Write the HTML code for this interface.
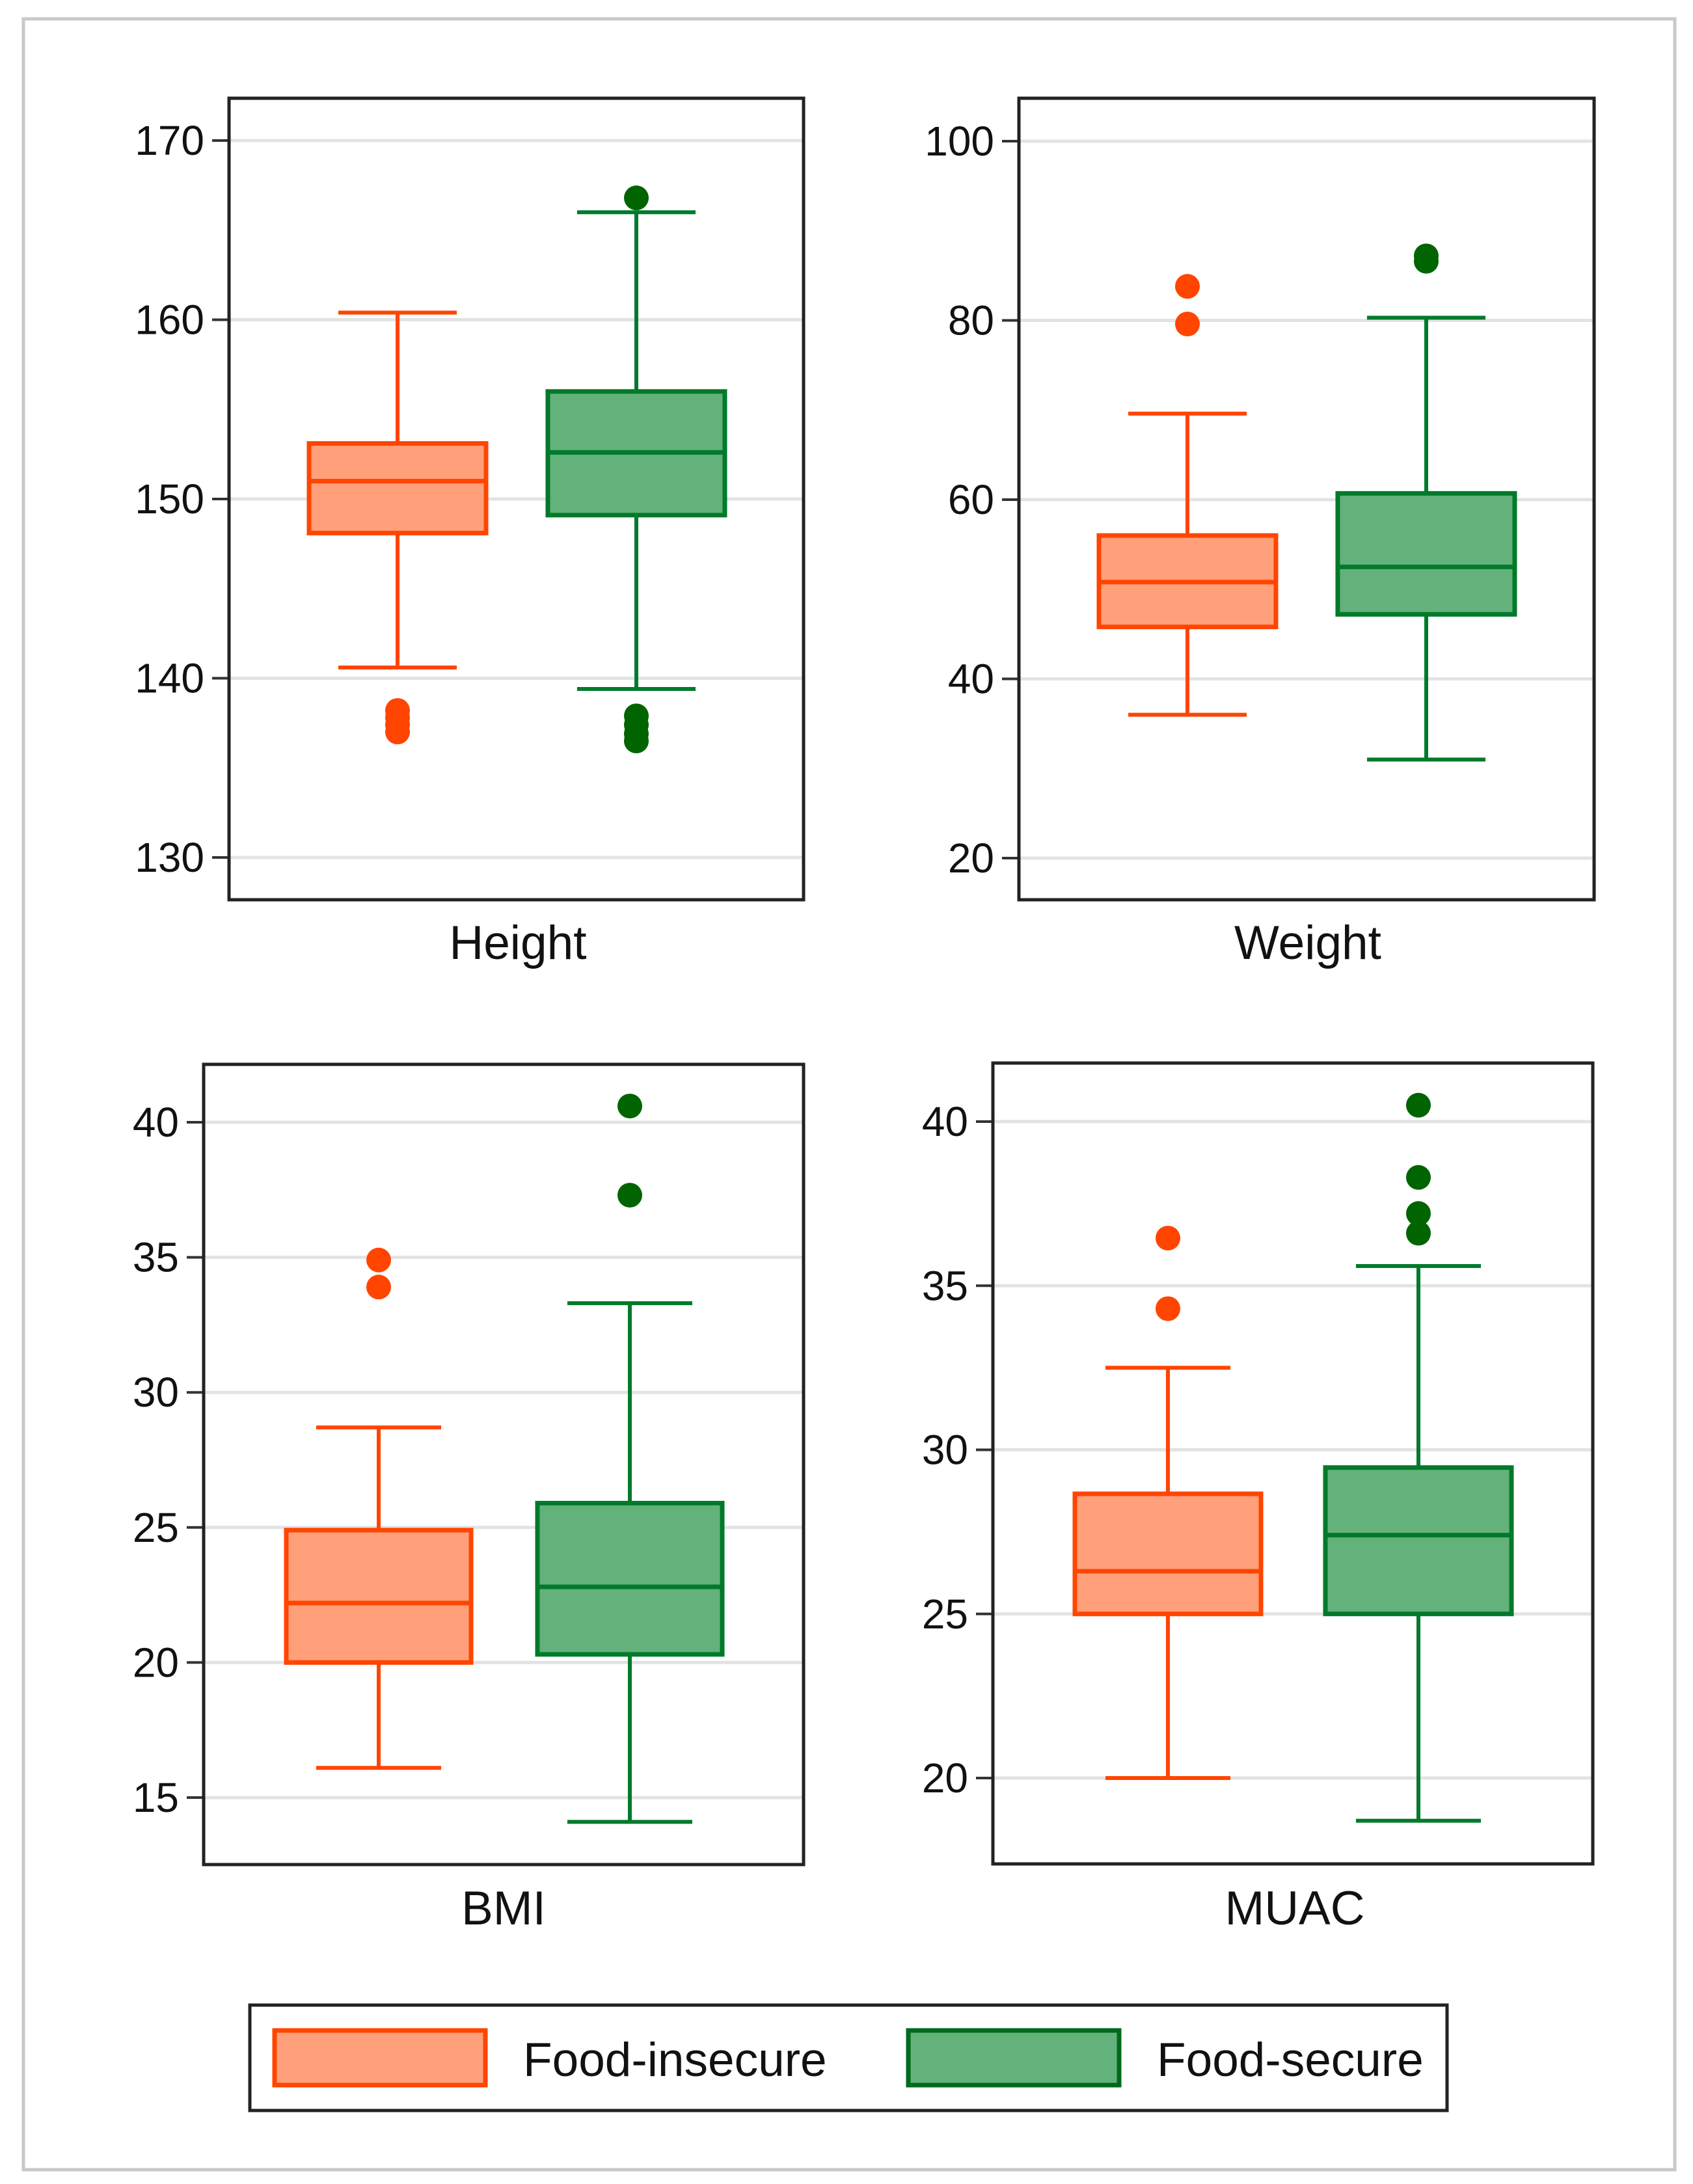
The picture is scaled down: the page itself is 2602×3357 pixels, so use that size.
<!DOCTYPE html>
<html><head><meta charset="utf-8"><style>
html,body{margin:0;padding:0;background:#fff;}
svg{display:block;font-family:"Liberation Sans",Arial,sans-serif;}
</style></head><body>
<svg id="chart" width="2602" height="3357" viewBox="0 0 2602 3357">
<rect x="36" y="29" width="2538" height="3306" fill="#fff" stroke="#c8c8c8" stroke-width="5"/>
<g id="panels"></g>
<g>
<rect x="384" y="3082" width="1840" height="162" fill="#fff" stroke="#222" stroke-width="5"/>
<rect x="422" y="3121" width="324" height="84" fill="#ffa07a" stroke="#ff4500" stroke-width="7"/>
<text x="804" y="3191" font-size="73" fill="#111">Food-insecure</text>
<rect x="1396" y="3121" width="324" height="84" fill="#63b17b" stroke="#006a1c" stroke-width="7"/>
<text x="1778" y="3191" font-size="73" fill="#111">Food-secure</text>
</g>
</svg>
<script>
// Data: [low whisker, Q1, median, Q3, high whisker]
const panelNames = ["Height", "Weight", "BMI", "MUAC"];
const insecureStats = [[140.6,148.1,151.0,153.1,160.4],[36,45.8,50.8,56.0,69.6],[16.1,20.0,22.2,24.9,28.7],[20.0,25.0,26.3,28.66,32.5]];
const secureStats = [[139.4,149.1,152.6,156.0,166.0],[31,47.2,52.5,60.7,80.3],[14.1,20.3,22.8,25.9,33.3],[18.7,25.0,27.4,29.46,35.6]];
const insecureOutliers = [[137.0,137.4,137.8,138.2],[79.6,83.8],[33.9,34.9],[34.3,36.45]];
const secureOutliers = [[136.5,136.9,137.4,137.9,166.8],[86.6,87.2],[37.3,40.6],[36.6,37.2,38.3,40.5]];
const tickValues = [[130,140,150,160,170],[20,40,60,80,100],[15,20,25,30,35,40],[20,25,30,35,40]];

// Layout (pixels) per panel
const layout = [
 {x0:352,x1:1235,y0:151,y1:1383,tA:130,pA:1318,tB:170,pB:216,ci:611,cs:978,hw:136,cw:91,lx:796,ly:1474},
 {x0:1566,x1:2450,y0:151,y1:1383,tA:20,pA:1319,tB:100,pB:217,ci:1825,cs:2192,hw:136,cw:91,lx:2010,ly:1474},
 {x0:313,x1:1235,y0:1636,y1:2866,tA:15,pA:2763,tB:40,pB:1725,ci:582,cs:968,hw:142,cw:96,lx:774,ly:2958},
 {x0:1526,x1:2448,y0:1634,y1:2865,tA:20,pA:2733,tB:40,pB:1724,ci:1795,cs:2180,hw:143,cw:96,lx:1990,ly:2958}
];
const NS="http://www.w3.org/2000/svg";
const root=document.getElementById('panels');
function mk(tag,attrs,parent){const e=document.createElementNS(NS,tag);for(const k in attrs)e.setAttribute(k,attrs[k]);parent.appendChild(e);return e;}
layout.forEach((L,i)=>{
  const yS=v=>L.pA+(v-L.tA)*(L.pB-L.pA)/(L.tB-L.tA);
  const g=mk('g',{},root);
  
  
  const bg=mk('rect',{x:L.x0,y:L.y0,width:L.x1-L.x0,height:L.y1-L.y0,fill:'#fff'},g);
  
  
  tickValues[i].forEach(t=>{
    const y=yS(t);
    const gl=mk('line',{x1:L.x0,x2:L.x1,y1:y,y2:y,stroke:'#e3e3e3','stroke-width':5},g);
    
    
    const tk=mk('line',{x1:L.x0-26,x2:L.x0,y1:y,y2:y,stroke:'#333','stroke-width':4},g);
    
    
    const tl=mk('text',{x:L.x0-38,y:y+22,'text-anchor':'end','font-size':64,fill:'#111'},g);
    tl.textContent=t;
    
    
  });
  const groups=[[insecureStats[i],insecureOutliers[i],L.ci,'#ff4500','#ffa07a','#ff4500','insecure'],[secureStats[i],secureOutliers[i],L.cs,'#007a2a','#63b17b','#006400','secure']];
  groups.forEach(([s,o,cx,stroke,fill,ocol,nm])=>{
    const bg2=mk('g',{},g);
    
    
    mk('line',{x1:cx,x2:cx,y1:yS(s[0]),y2:yS(s[1]),stroke:stroke,'stroke-width':6},bg2);
    mk('line',{x1:cx,x2:cx,y1:yS(s[3]),y2:yS(s[4]),stroke:stroke,'stroke-width':6},bg2);
    mk('line',{x1:cx-L.cw,x2:cx+L.cw,y1:yS(s[0]),y2:yS(s[0]),stroke:stroke,'stroke-width':6},bg2);
    mk('line',{x1:cx-L.cw,x2:cx+L.cw,y1:yS(s[4]),y2:yS(s[4]),stroke:stroke,'stroke-width':6},bg2);
    mk('rect',{x:cx-L.hw,y:yS(s[3]),width:2*L.hw,height:yS(s[1])-yS(s[3]),fill:fill,stroke:stroke,'stroke-width':7},bg2);
    mk('line',{x1:cx-L.hw,x2:cx+L.hw,y1:yS(s[2]),y2:yS(s[2]),stroke:stroke,'stroke-width':7},bg2);
    o.forEach(v=>{
      const c=mk('circle',{cx:cx,cy:yS(v),r:19,fill:ocol},g);
      
      
    });
  });
  const fr=mk('rect',{x:L.x0,y:L.y0,width:L.x1-L.x0,height:L.y1-L.y0,fill:'none',stroke:'#222','stroke-width':5},g);
  
  
  const lb=mk('text',{x:L.lx,y:L.ly,'text-anchor':'middle','font-size':73,fill:'#111'},g);
  lb.textContent=panelNames[i];
  
  
});
</script>
</body></html>
